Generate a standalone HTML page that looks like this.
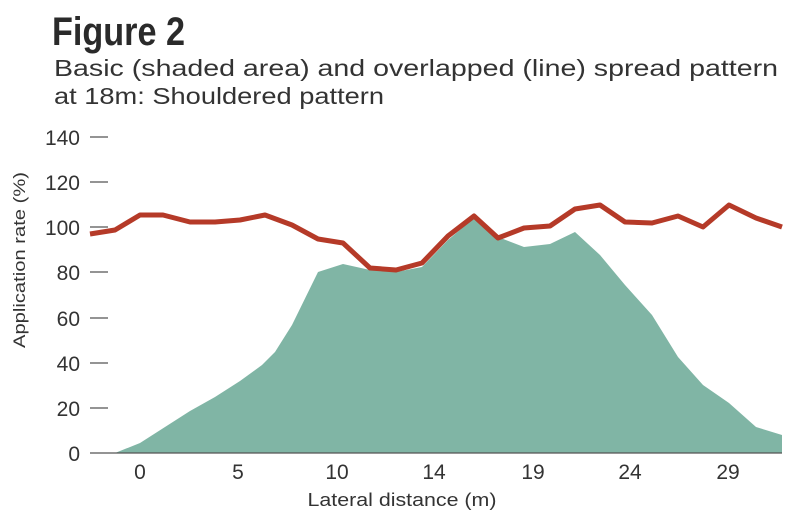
<!DOCTYPE html>
<html><head><style>
body{margin:0;background:#fff;}
svg text{font-family:"Liberation Sans",sans-serif;}
</style></head><body>
<svg width="790" height="520" viewBox="0 0 790 520" xmlns="http://www.w3.org/2000/svg">
<rect width="790" height="520" fill="#fff"/>
<text x="52" y="45" font-size="40" font-weight="bold" fill="#2a2a2a" textLength="133" lengthAdjust="spacingAndGlyphs">Figure 2</text>
<text x="54" y="76" font-size="23" fill="#333" textLength="724" lengthAdjust="spacingAndGlyphs">Basic (shaded area) and overlapped (line) spread pattern</text>
<text x="54" y="104" font-size="23" fill="#333" textLength="330" lengthAdjust="spacingAndGlyphs">at 18m: Shouldered pattern</text>
<g stroke="#555" stroke-width="1.2">
<line x1="90" y1="137" x2="108" y2="137"/>
<line x1="90" y1="182" x2="108" y2="182"/>
<line x1="90" y1="227" x2="108" y2="227"/>
<line x1="90" y1="272" x2="108" y2="272"/>
<line x1="90" y1="318" x2="108" y2="318"/>
<line x1="90" y1="363" x2="108" y2="363"/>
<line x1="90" y1="408" x2="108" y2="408"/>
<line x1="90" y1="453" x2="108" y2="453"/>
</g>
<g font-size="21" fill="#333" text-anchor="end">
<text x="80" y="145">140</text>
<text x="80" y="190">120</text>
<text x="80" y="235">100</text>
<text x="80" y="280">80</text>
<text x="80" y="326">60</text>
<text x="80" y="371">40</text>
<text x="80" y="416">20</text>
<text x="80" y="461">0</text>
</g>
<text transform="translate(25,260) rotate(-90)" font-size="17" fill="#333" text-anchor="middle" textLength="176" lengthAdjust="spacingAndGlyphs">Application rate (%)</text>
<polygon fill="#80b5a5" points="115,453 140,443 165,427 190,411 215,397 240,381 262,365 275,352 292,325 318,272 343,264 370,270 396,272 422,267 448,240 474,218 498,237 524,247 550,244 575,232 600,255 625,285 652,315 678,357 703,385 729,403 756,427 782,435 782,453"/>
<line x1="108" y1="453" x2="782" y2="453" stroke="#555" stroke-width="1.2"/>
<polyline fill="none" stroke="#b53a28" stroke-width="5" stroke-linejoin="round" points="90,234 115,230 140,215 163,215 190,222 215,222 240,220 265,215 292,225 318,239 343,243 370,268 396,270 422,263 448,236 474,216 498,238 524,228 550,226 575,209 600,205 625,222 652,223 678,216 703,227 729,205 756,218 782,227"/>
<g font-size="21" fill="#333" text-anchor="middle">
<text x="140" y="479">0</text>
<text x="238" y="479">5</text>
<text x="337" y="479">10</text>
<text x="434" y="479">14</text>
<text x="533" y="479">19</text>
<text x="630" y="479">24</text>
<text x="728" y="479">29</text>
</g>
<text x="402" y="506" font-size="18" fill="#333" text-anchor="middle" textLength="189" lengthAdjust="spacingAndGlyphs">Lateral distance (m)</text>
</svg>
</body></html>
